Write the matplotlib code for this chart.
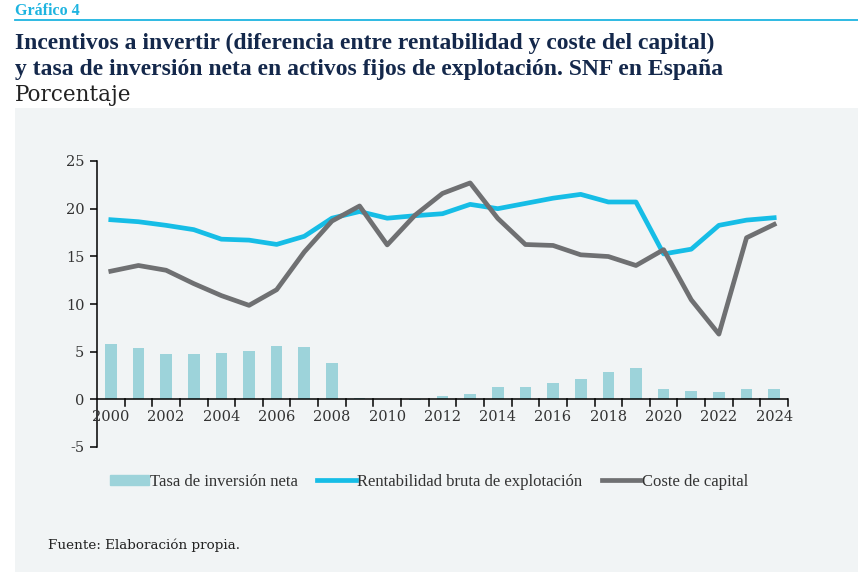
import matplotlib.pyplot as plt
from matplotlib.patches import Rectangle
from matplotlib.lines import Line2D

years = list(range(2000, 2025))
tasa_inversion = [5.84, 5.35, 4.72, 4.72, 4.83, 5.03, 5.6, 5.49, 3.85, 0.14,
                  0.02, -0.05, 0.35, 0.52, 1.26, 1.26, 1.75, 2.13, 2.87, 3.25,
                  1.05, 0.84, 0.73, 1.05, 1.05]
rentabilidad = [18.84, 18.63, 18.25, 17.8, 16.8, 16.7, 16.25, 17.1, 19.0, 19.7,
                19.0, 19.26, 19.47, 20.45, 20.0, 20.55, 21.1, 21.5, 20.7, 20.7,
                15.25, 15.75, 18.25, 18.8, 19.05]
coste_capital = [13.44, 14.04, 13.54, 12.14, 10.88, 9.86, 11.5, 15.46, 18.7, 20.28,
                 16.2, 19.3, 21.6, 22.7, 18.98, 16.24, 16.14, 15.16, 14.98, 14.04,
                 15.7, 10.44, 6.84, 16.95, 18.35]
yticks = [-5, 0, 5, 10, 15, 20, 25]

W, H = 858, 588
fig = plt.figure(figsize=(W / 100, H / 100), dpi=100)

# panel de fondo gris
fig.patches.append(Rectangle((15 / W, 1 - 572 / H), 1 - 15 / W, (572 - 108) / H,
                             transform=fig.transFigure, facecolor="#f1f4f5",
                             edgecolor="none", zorder=-1))
fig.add_artist(Line2D([15 / W, 1], [1 - 19.5 / H] * 2, color="#1eb4e0", lw=1.3))

fig.text(15 / W, 1 - 11 / H, "Gráfico 4", color="#1eb4e0", fontsize=11.5,
         fontweight="bold", family="Liberation Serif", va="center")
fig.text(15 / W, 1 - 43 / H,
         "Incentivos a invertir (diferencia entre rentabilidad y coste del capital)",
         color="#14284b", fontsize=17, fontweight="bold", family="Liberation Serif",
         va="center")
fig.text(15 / W, 1 - 69 / H,
         "y tasa de inversión neta en activos fijos de explotación. SNF en España",
         color="#14284b", fontsize=17, fontweight="bold", family="Liberation Serif",
         va="center")
fig.text(15 / W, 1 - 95 / H, "Porcentaje", color="#222222", fontsize=15.5,
         family="DejaVu Serif", va="center")
fig.text(48 / W, 1 - 545 / H, "Fuente: Elaboración propia.", color="#222222",
         fontsize=9.7, family="DejaVu Serif", va="center")

ax = fig.add_axes([97 / W, 1 - 447 / H, (788 - 97) / W, (447 - 161) / H])
ax.set_zorder(2)
ax.set_facecolor("none")
x = list(range(len(years)))
ax.bar(x, tasa_inversion, width=0.42, color="#9dd3da", zorder=2)
ax.plot(x, rentabilidad, color="#16bde6", lw=3.4, zorder=3)
ax.plot(x, coste_capital, color="#6f7072", lw=3.4, zorder=4)

ax.set_xlim(-0.5, len(years) - 0.5)
ax.set_ylim(-5, 25)
ax.set_yticks(yticks)
ax.set_yticklabels([str(v) for v in yticks])
for s in ["top", "right", "bottom"]:
    ax.spines[s].set_visible(False)
ax.spines["left"].set_linewidth(1.1)
ax.axhline(0, color="black", lw=1.1, zorder=5)
ax.tick_params(axis="y", length=5, width=1.1, labelsize=10.5, labelcolor="#333333",
               pad=4)
for lab in ax.get_yticklabels():
    lab.set_family("DejaVu Serif")

# ticks del eje x sobre la linea del cero
for i in range(len(years)):
    ax.plot([i + 0.5, i + 0.5], [0, -0.75], color="black", lw=1.1, zorder=5,
            clip_on=False)
ax.set_xticks([])
for i, yr in enumerate(years):
    if yr % 2 == 0:
        ax.text(i, -1.9, str(yr), ha="center", va="center", fontsize=10.5,
                color="#333333", family="DejaVu Serif")

handles = [Rectangle((0, 0), 1, 1, color="#9dd3da"),
           Line2D([], [], color="#16bde6", lw=3.4),
           Line2D([], [], color="#6f7072", lw=3.4)]
labels = ["Tasa de inversión neta", "Rentabilidad bruta de explotación",
          "Coste de capital"]
leg = fig.legend(handles, labels, loc="center", bbox_to_anchor=(429 / W, 1 - 482 / H),
                 ncol=3, frameon=False, handlelength=2.3, handleheight=0.6,
                 handletextpad=0.1, columnspacing=1.15,
                 prop={"family": "Liberation Serif", "size": 12})
for t in leg.get_texts():
    t.set_color("#333333")

fig.savefig("out.png", dpi=100)
